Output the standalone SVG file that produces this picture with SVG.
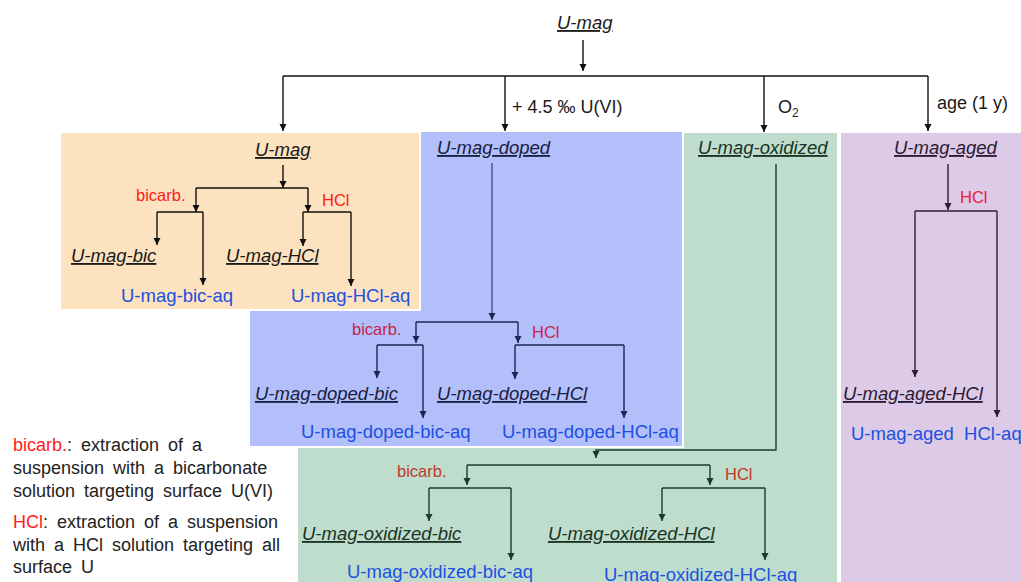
<svg xmlns="http://www.w3.org/2000/svg" width="1021" height="582" viewBox="0 0 1021 582">
<style>
text{font-family:"Liberation Sans",Arial,sans-serif}
.t{font-size:18.5px;font-style:italic;text-decoration:underline}
.aq{font-size:18.5px;fill:#2050E0}
.r{font-size:16.5px}
.lab{font-size:18px;fill:#1a1a1a}
.leg{font-size:18px;fill:#222;word-spacing:4px}
.box{stroke:#fff;stroke-width:2}
.c{fill:none;stroke-width:1.4}
</style>
<defs>
<marker id="aK" viewBox="0 0 10 10" refX="10" refY="5" markerWidth="7" markerHeight="8" markerUnits="userSpaceOnUse" orient="auto"><path d="M0,0 L10,5 L0,10 z" fill="#111"/></marker>
<marker id="aN" viewBox="0 0 10 10" refX="10" refY="5" markerWidth="7" markerHeight="8" markerUnits="userSpaceOnUse" orient="auto"><path d="M0,0 L10,5 L0,10 z" fill="#1c2455"/></marker>
<marker id="aG" viewBox="0 0 10 10" refX="10" refY="5" markerWidth="7" markerHeight="8" markerUnits="userSpaceOnUse" orient="auto"><path d="M0,0 L10,5 L0,10 z" fill="#1d3a28"/></marker>
<marker id="aP" viewBox="0 0 10 10" refX="10" refY="5" markerWidth="7" markerHeight="8" markerUnits="userSpaceOnUse" orient="auto"><path d="M0,0 L10,5 L0,10 z" fill="#2b1e35"/></marker>
</defs>
<rect width="1021" height="582" fill="#fff"/>
<g id="boxes">
<rect id="box-green" class="box" x="297" y="132" width="541" height="460" fill="#BEDDCD"/>
<rect id="box-purple" class="box" x="840" y="132" width="190" height="460" fill="#DCCAE6"/>
<rect id="box-blue" class="box" x="249" y="131" width="434" height="316" fill="#B3BFFB"/>
<rect id="box-orange" class="box" x="60" y="132" width="360" height="178" fill="#FDE2BF"/>
</g>
<g id="connectors">
<g stroke="#111" class="c">
<path d="M583,40 V71" marker-end="url(#aK)"/>
<path d="M283,76 H928"/>
<path d="M283,76 V131" marker-end="url(#aK)"/>
<path d="M505,76 V131" marker-end="url(#aK)"/>
<path d="M764,76 V132" marker-end="url(#aK)"/>
<path d="M928,76 V131" marker-end="url(#aK)"/>
<path d="M283,165 V188" marker-end="url(#aK)"/>
<path d="M196,188 H308"/>
<path d="M196,188 V212" marker-end="url(#aK)"/>
<path d="M308,188 V212" marker-end="url(#aK)"/>
<path d="M157,212 H203"/>
<path d="M157,212 V245" marker-end="url(#aK)"/>
<path d="M203,212 V285" marker-end="url(#aK)"/>
<path d="M303,212 H351"/>
<path d="M303,212 V246" marker-end="url(#aK)"/>
<path d="M351,212 V286" marker-end="url(#aK)"/>
</g>
<g stroke="#1c2455" class="c">
<path d="M492,163 V320" marker-end="url(#aN)" stroke-width="1"/>
<path d="M416,322 H518"/>
<path d="M416,322 V343" marker-end="url(#aN)"/>
<path d="M518,322 V343" marker-end="url(#aN)"/>
<path d="M377,345 H423"/>
<path d="M377,345 V378" marker-end="url(#aN)"/>
<path d="M423,345 V418" marker-end="url(#aN)"/>
<path d="M515,345 H624"/>
<path d="M515,345 V379" marker-end="url(#aN)"/>
<path d="M624,345 V418" marker-end="url(#aN)"/>
</g>
<g stroke="#1d3a28" class="c">
<path d="M776,164 V450 H596 V458" marker-end="url(#aG)"/>
<path d="M467,465 H710"/>
<path d="M467,465 V485" marker-end="url(#aG)"/>
<path d="M710,465 V485" marker-end="url(#aG)"/>
<path d="M429,488 H511"/>
<path d="M429,488 V521" marker-end="url(#aG)"/>
<path d="M511,488 V560" marker-end="url(#aG)"/>
<path d="M662,488 H765"/>
<path d="M662,488 V521" marker-end="url(#aG)"/>
<path d="M765,488 V560" marker-end="url(#aG)"/>
</g>
<g stroke="#2b1e35" class="c">
<path d="M948,164 V210" marker-end="url(#aP)"/>
<path d="M915,211 H997"/>
<path d="M915,211 V377" marker-end="url(#aP)"/>
<path d="M997,211 V417" marker-end="url(#aP)"/>
</g>
</g>
<g id="edge-labels">
<text class="lab" x="512" y="113">+ 4.5 ‰ U(VI)</text>
<text class="lab" x="778" y="113">O<tspan font-size="12" dy="4">2</tspan></text>
<text class="lab" x="937" y="109">age (1 y)</text>
</g>
<g id="node-top"><text class="t" x="557" y="29" fill="#1a1a1a">U-mag</text></g>
<g id="node-orange" fill="#1a1a1a">
<text class="t" x="255" y="156">U-mag</text>
<text class="r" x="136" y="201" fill="#FF1A1A">bicarb.</text>
<text class="r" x="322" y="206" fill="#FF1A1A">HCl</text>
<text class="t" x="71" y="262">U-mag-bic</text>
<text class="t" x="226" y="262">U-mag-HCl</text>
<text class="aq" x="121" y="302">U-mag-bic-aq</text>
<text class="aq" x="291" y="302">U-mag-HCl-aq</text>
</g>
<g id="node-blue" fill="#1a2040">
<text class="t" x="437" y="154">U-mag-doped</text>
<text class="r" x="352" y="335" fill="#C8234A">bicarb.</text>
<text class="r" x="532" y="338" fill="#C8234A">HCl</text>
<text class="t" x="255" y="400">U-mag-doped-bic</text>
<text class="t" x="437" y="400">U-mag-doped-HCl</text>
<text class="aq" x="301" y="438">U-mag-doped-bic-aq</text>
<text class="aq" x="502" y="438">U-mag-doped-HCl-aq</text>
</g>
<g id="node-green" fill="#1a3324">
<text class="t" x="698" y="154">U-mag-oxidized</text>
<text class="r" x="397" y="477" fill="#C0392B">bicarb.</text>
<text class="r" x="725" y="480" fill="#C0392B">HCl</text>
<text class="t" x="302" y="540">U-mag-oxidized-bic</text>
<text class="t" x="548" y="540">U-mag-oxidized-HCl</text>
<text class="aq" x="347" y="578">U-mag-oxidized-bic-aq</text>
<text class="aq" x="604" y="581">U-mag-oxidized-HCl-aq</text>
</g>
<g id="node-purple" fill="#2a1a33">
<text class="t" x="894" y="154">U-mag-aged</text>
<text class="r" x="960" y="203" fill="#E8203A">HCl</text>
<text class="t" x="843" y="400">U-mag-aged-HCl</text>
<text class="aq" x="851" y="440" style="white-space:pre">U-mag-aged  HCl-aq</text>
</g>
<g id="legend">
<text class="leg" x="13" y="451"><tspan fill="#FF1A1A">bicarb.</tspan>: extraction of a</text>
<text class="leg" x="13" y="474">suspension with a bicarbonate</text>
<text class="leg" x="13" y="497">solution targeting surface U(VI)</text>
<text class="leg" x="13" y="528"><tspan fill="#FF1A1A">HCl</tspan>: extraction of a suspension</text>
<text class="leg" x="13" y="551">with a HCl solution targeting all</text>
<text class="leg" x="13" y="573">surface U</text>
</g>
</svg>
